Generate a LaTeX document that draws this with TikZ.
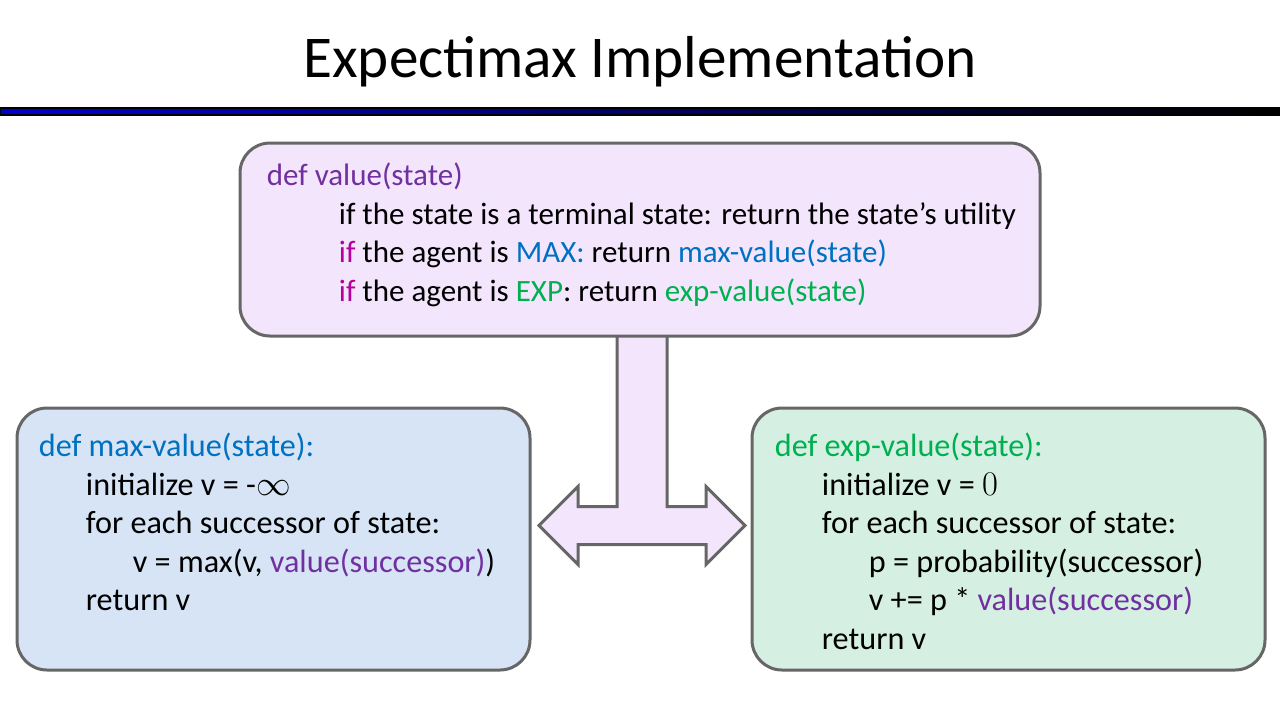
\documentclass[tikz,border=0pt]{standalone}
\usepackage{fontspec}
\setmainfont{Carlito}
\usepackage{tikz}
\usetikzlibrary{positioning, calc, backgrounds}
\definecolor{deffun}{HTML}{7030A0}
\definecolor{maxblue}{HTML}{0070C0}
\definecolor{expgreen}{HTML}{00B050}
\definecolor{ifpink}{HTML}{B4009E}
\definecolor{boxline}{HTML}{666666}
\definecolor{valfill}{HTML}{F3E6FC}
\definecolor{maxfill}{HTML}{D6E4F5}
\definecolor{expfill}{HTML}{D5F0E2}
\definecolor{titleblue}{HTML}{0000CD}
\tikzset{
  codebox/.style={
    rectangle, rounded corners=15pt,
    draw=boxline, line width=1.5pt,
  },
  codetext/.style={
    anchor=base west, align=left, inner sep=0pt,
    font=\fontsize{15.5}{19.25}\selectfont,
  },
  sidetext/.style={codetext, font=\fontsize{16.1}{19.25}\selectfont},
  blockarrow/.style={draw=boxline, line width=1.5pt, fill=valfill},
}

\begin{document}
\begin{tikzpicture}[x=0.5pt, y=-0.5pt]
  \useasboundingbox (0,0) rectangle (1280,720);

  \node[anchor=base, font=\fontsize{29.6}{36}\selectfont] (title) at (640,77) {Expectimax Implementation};
  \shade[left color=titleblue, right color=black] (0,108) rectangle (1280,115);
  \draw[black, line width=0.75pt] (0,108) rectangle (1280,115);

  \node[codebox, fill=valfill, minimum width=400pt, minimum height=96.5pt] (valbox) at (640,239.5) {};
  \node[codebox, fill=maxfill, minimum width=256.5pt, minimum height=131pt] (maxbox) at (273.5,539) {};
  \node[codebox, fill=expfill, minimum width=256.5pt, minimum height=131pt] (expbox) at (1008.5,539) {};

  % base of a multi-line node is its last line
  \node[codetext] (valcode) at ($(valbox.north west)+(28,159.5)$) {%
    \textcolor{deffun}{def value(state)}\\
    \hspace{36pt}if the state is a terminal state: return the state’s utility\\
    \hspace{36pt}\textcolor{ifpink}{if} the agent is \textcolor{maxblue}{MAX:} return \textcolor{maxblue}{max-value(state)}\\
    \hspace{36pt}\textcolor{ifpink}{if} the agent is \textcolor{expgreen}{EXP}: return \textcolor{expgreen}{exp-value(state)}};

  \node[sidetext] (maxcode) at ($(maxbox.north west)+(23,204)$) {%
    \textcolor{maxblue}{def max-value(state):}\\
    \hspace{23.5pt}initialize v = -$\infty$\\
    \hspace{23.5pt}for each successor of state:\\
    \hspace{47pt}v = max(v, \textcolor{deffun}{value(successor)})\\
    \hspace{23.5pt}return v};

  \node[sidetext] (expcode) at ($(expbox.north west)+(24,242.5)$) {%
    \textcolor{expgreen}{def exp-value(state):}\\
    \hspace{23.5pt}initialize v = $0$\\
    \hspace{23.5pt}for each successor of state:\\
    \hspace{47pt}p = probability(successor)\\
    \hspace{47pt}v += p * \textcolor{deffun}{value(successor)}\\
    \hspace{23.5pt}return v};

  \begin{scope}[on background layer]
    \draw[blockarrow] ($(valbox.south)+(-23,-2)$) -- ++(0,171) -- ++(-39,0) -- ++(0,-20)
      -- ++(-39,39) -- ++(39,39) -- ++(0,-20) -- ++(128,0) -- ++(0,20)
      -- ++(39,-39) -- ++(-39,-39) -- ++(0,20) -- ++(-39,0) -- ++(0,-171);
  \end{scope}

\end{tikzpicture}
\end{document}
